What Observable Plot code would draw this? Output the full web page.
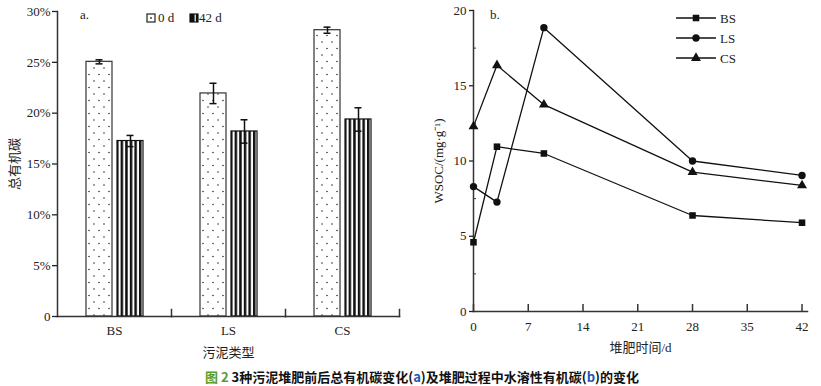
<!DOCTYPE html>
<html><head><meta charset="utf-8">
<script src="https://cdn.jsdelivr.net/npm/d3@7"></script>
<script src="https://cdn.jsdelivr.net/npm/@observablehq/plot@0.6"></script>
<style>
body{margin:0;background:#fff}
#wrap{position:relative;width:821px;height:386px;background:#fff;overflow:hidden;font-family:"Liberation Serif","Noto Sans CJK SC",serif;color:#222}
.abs{position:absolute}
.lt{position:absolute;font-size:13px;line-height:13px;white-space:nowrap}
#cap{position:absolute;left:205px;top:369px;font-family:"Noto Sans CJK SC",sans-serif;font-weight:bold;font-size:13px;line-height:15px;white-space:nowrap;color:#111}
</style></head><body>
<div id="wrap">
 <div id="pa" class="abs" style="left:0;top:0"></div>
 <div id="pb" class="abs" style="left:420px;top:0"></div>
 <div class="lt" style="left:80px;top:8px">a.</div>
 <div class="lt" style="left:490px;top:8px">b.</div>
 <svg class="abs" style="left:146px;top:13px" width="60" height="12">
  <rect x="1" y="1" width="8" height="8" fill="#fff" stroke="#222" stroke-width="1.2"/>
  <rect x="4.2" y="4.2" width="1.6" height="1.6" fill="#222"/>
  <rect x="44" y="1" width="8" height="8" fill="#111" stroke="#111" stroke-width="1.2"/>
  <rect x="48.6" y="1.5" width="1.2" height="7" fill="#fff"/>
 </svg>
 <div class="lt" style="left:158px;top:11px">0 d</div>
 <div class="lt" style="left:199px;top:11px">42 d</div>
 <svg class="abs" id="legB" style="left:674px;top:8px" width="46" height="60"></svg>
 <div class="lt" style="left:720px;top:12px">BS</div>
 <div class="lt" style="left:720px;top:32px">LS</div>
 <div class="lt" style="left:720px;top:52px">CS</div>
 <div id="cap"><span style="color:#5a9e2a">图 2</span> 3种污泥堆肥前后总有机碳变化(<span style="color:#2456b0">a</span>)及堆肥过程中水溶性有机碳(<span style="color:#2456b0">b</span>)的变化</div>
</div>
<script>
// ---- Panel a data ----
const categories = ["BS", "LS", "CS"];
const periods = ["0 d", "42 d"];
const toc0 = [25.05, 21.94, 28.16];
const toc0Err = [0.2, 1.0, 0.3];
const toc42 = [17.26, 18.2, 19.38];
const toc42Err = [0.55, 1.15, 1.15];
const yTicksA = [0, 5, 10, 15, 20, 25, 30];

// ---- Panel b data ----
const days = [0, 3, 9, 28, 42];
const seriesNames = ["BS", "LS", "CS"];
const wsocBS = [4.6, 10.95, 10.5, 6.38, 5.9];
const wsocLS = [8.3, 7.27, 18.86, 10.0, 9.04];
const wsocCS = [12.3, 16.36, 13.74, 9.26, 8.38];
const xTicksB = [0, 7, 14, 21, 28, 35, 42];
const yTicksB = [0, 5, 10, 15, 20];
const yMinorB = [2.5, 7.5, 12.5, 17.5];

const font = "'Liberation Serif','Noto Sans CJK SC',serif";
const ink = "#333";

const rowsA = categories.flatMap((c, i) => [
  {cat: c, period: periods[0], v: toc0[i], e: toc0Err[i]},
  {cat: c, period: periods[1], v: toc42[i], e: toc42Err[i]}
]);

const plotA = Plot.plot({
  width: 420, height: 362,
  marginLeft: 56, marginRight: 20, marginTop: 11, marginBottom: 46,
  style: {fontFamily: font, fontSize: "13px", color: "#222", background: "transparent", overflow: "visible"},
  fx: {domain: categories, padding: 0},
  x: {domain: periods, paddingInner: 0.17, paddingOuter: 0.877, axis: null},
  y: {domain: [0, 30]},
  marks: [
    Plot.barY(rowsA.filter(d => d.period === periods[0]), {fx: "cat", x: "period", y: "v", fill: "url(#dotsA)", stroke: ink, strokeWidth: 1.2}),
    Plot.barY(rowsA.filter(d => d.period === periods[1]), {fx: "cat", x: "period", y: "v", fill: "url(#stripesA)", stroke: "#111", strokeWidth: 1.2}),
    Plot.ruleX(rowsA, {fx: "cat", x: "period", y1: d => d.v - d.e, y2: d => d.v + d.e, stroke: "#111", strokeWidth: 1.5}),
    Plot.tickY(rowsA, {fx: "cat", x: "period", y: d => d.v - d.e, insetLeft: 9.5, insetRight: 9.5, stroke: "#111", strokeWidth: 1.5}),
    Plot.tickY(rowsA, {fx: "cat", x: "period", y: d => d.v + d.e, insetLeft: 9.5, insetRight: 9.5, stroke: "#111", strokeWidth: 1.5}),
    Plot.frame({anchor: "bottom", stroke: ink, strokeWidth: 1.5}),
    Plot.frame({anchor: "right", insetTop: 298, stroke: ink, strokeWidth: 1.5}),
    Plot.frame({anchor: "left", facetAnchor: "left", stroke: ink, strokeWidth: 1.5}),
    Plot.axisY({ticks: yTicksA, tickFormat: d => d === 0 ? "0" : d + "%", tickSize: 5, tickPadding: 2, strokeWidth: 1.3,
      label: "总有机碳", labelAnchor: "center", labelOffset: 48, labelArrow: "none"}),
    Plot.axisFx({anchor: "bottom", tickSize: 0, tickPadding: 9, label: "污泥类型", labelAnchor: "center", labelOffset: 40, labelArrow: "none"})
  ]
});

d3.select(plotA).insert("defs", ":first-child").html(`
  <pattern id="dotsA" width="10" height="13" patternUnits="userSpaceOnUse">
    <rect width="10" height="13" fill="#fff"/>
    <circle cx="3" cy="3" r="0.8" fill="#333"/>
    <circle cx="8" cy="9.5" r="0.8" fill="#333"/>
  </pattern>
  <pattern id="stripesA" width="4.6" height="10" patternUnits="userSpaceOnUse">
    <rect width="4.6" height="10" fill="#fff"/>
    <rect x="0" width="2.5" height="10" fill="#111"/>
  </pattern>`);
document.getElementById("pa").appendChild(plotA);

const rowsB = [["BS", wsocBS], ["LS", wsocLS], ["CS", wsocCS]]
  .flatMap(([s, vals]) => days.map((d, i) => ({s, day: d, v: vals[i]})));

const plotB = Plot.plot({
  width: 401, height: 362,
  marginLeft: 53, marginRight: 14, marginTop: 10, marginBottom: 51,
  style: {fontFamily: font, fontSize: "13px", color: "#222", background: "transparent", overflow: "visible"},
  x: {domain: [0, 42.7]},
  y: {domain: [0, 20]},
  symbol: {domain: seriesNames, range: ["square", "circle", "triangle"]},
  marks: [
    Plot.frame({anchor: "left", stroke: ink, strokeWidth: 1.5}),
    Plot.frame({anchor: "bottom", stroke: ink, strokeWidth: 1.5}),
    Plot.tickX(xTicksB, {x: d => d, insetTop: 294, stroke: ink, strokeWidth: 1.5}),
    Plot.tickY(yMinorB, {y: d => d, insetRight: 331, stroke: ink, strokeWidth: 1}),
    Plot.line(rowsB, {x: "day", y: "v", z: "s", stroke: "#111", strokeWidth: 1.3}),
    Plot.dot(rowsB, {x: "day", y: "v", symbol: "s", fill: "#111", stroke: "none", r: 3.7}),
    Plot.axisY({ticks: yTicksB, tickSize: 4, tickPadding: 3, strokeWidth: 1.3,
      label: "WSOC/(mg·g⁻¹)", labelAnchor: "center", labelOffset: 40, labelArrow: "none"}),
    Plot.axisX({ticks: xTicksB, tickSize: 0, tickPadding: 10,
      label: "堆肥时间/d", labelAnchor: "center", labelOffset: 40, labelArrow: "none"})
  ]
});
document.getElementById("pb").appendChild(plotB);

// legend for panel b (symbols from the same symbol names)
const legB = d3.select("#legB");
const sym = {BS: d3.symbolSquare, LS: d3.symbolCircle, CS: d3.symbolTriangle};
seriesNames.forEach((s, i) => {
  const y = 10 + i * 20;
  legB.append("line").attr("x1", 2).attr("x2", 42).attr("y1", y).attr("y2", y).attr("stroke", "#111").attr("stroke-width", 1.3);
  legB.append("path").attr("transform", `translate(22,${y})`).attr("d", d3.symbol(sym[s], 3.7 * 3.7 * Math.PI)()).attr("fill", "#111");
});
</script>
</body></html>
